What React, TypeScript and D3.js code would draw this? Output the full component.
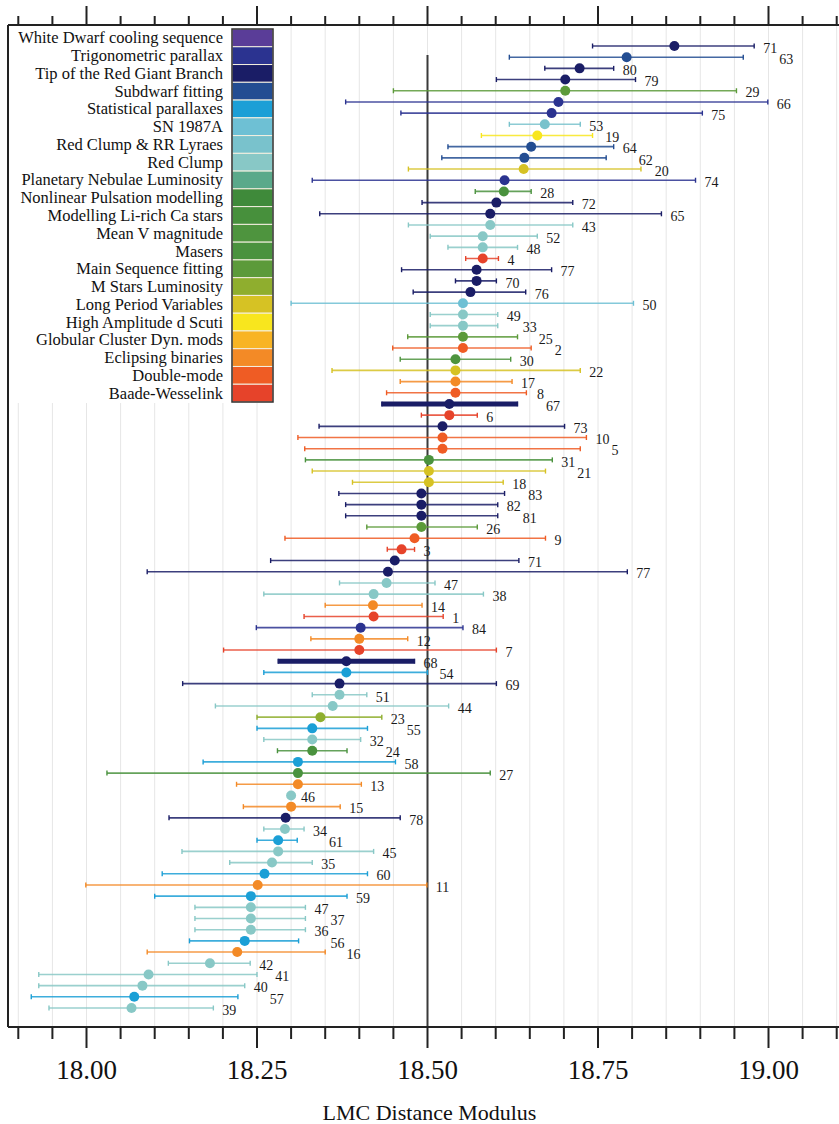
import React from "react";
import * as d3 from "d3";

const methodNames = [
  "White Dwarf cooling sequence",
  "Trigonometric parallax",
  "Tip of the Red Giant Branch",
  "Subdwarf fitting",
  "Statistical parallaxes",
  "SN 1987A",
  "Red Clump  &  RR Lyraes",
  "Red Clump",
  "Planetary Nebulae Luminosity",
  "Nonlinear Pulsation modelling",
  "Modelling Li-rich Ca stars",
  "Mean V magnitude",
  "Masers",
  "Main Sequence fitting",
  "M Stars Luminosity",
  "Long Period Variables",
  "High Amplitude d Scuti",
  "Globular Cluster Dyn. mods",
  "Eclipsing binaries",
  "Double-mode",
  "Baade-Wesselink",
];

const methodColors = [
  "#5a3d98", "#2b3390", "#1a1d66", "#234d92", "#1b9fd6", "#6ec0d4", "#79c2cc",
  "#88c8c6", "#5aa98a", "#3f8a3a", "#47903c", "#4e943e", "#4a923e", "#5c9a3a",
  "#8fae2e", "#d6c224", "#f8e61e", "#f8b424", "#f38a26", "#ef5c24", "#e6432a",
];

const refLabels = [
  "71", "63", "80", "79", "29", "66", "75", "53", "19", "64", "62", "20", "74", "28", "72", "65", "43", "52", "48", "4",
  "77", "70", "76", "50", "49", "33", "25", "2", "30", "22", "17", "8", "67", "6", "73", "10", "5", "31", "21", "18",
  "83", "82", "81", "26", "9", "3", "71", "77", "47", "38", "14", "1", "84", "12", "7", "68", "54", "69", "51", "44",
  "23", "55", "32", "24", "58", "27", "13", "46", "15", "78", "34", "61", "45", "35", "60", "11", "59", "47", "37", "36",
  "56", "16", "42", "41", "40", "57", "39",
];

const modulus = [
  18.862, 18.792, 18.723, 18.702, 18.702, 18.692, 18.682, 18.672, 18.661, 18.652, 18.642, 18.641, 18.613, 18.612, 18.601, 18.592, 18.592, 18.581, 18.581, 18.581,
  18.572, 18.572, 18.563, 18.552, 18.552, 18.552, 18.552, 18.552, 18.541, 18.541, 18.541, 18.541, 18.532, 18.532, 18.522, 18.522, 18.522, 18.502, 18.502, 18.502,
  18.491, 18.491, 18.491, 18.491, 18.481, 18.462, 18.452, 18.442, 18.440, 18.421, 18.420, 18.421, 18.402, 18.400, 18.400, 18.381, 18.381, 18.371, 18.371, 18.361,
  18.343, 18.331, 18.331, 18.331, 18.310, 18.310, 18.310, 18.300, 18.300, 18.292, 18.291, 18.281, 18.281, 18.272, 18.261, 18.251, 18.241, 18.241, 18.241, 18.241,
  18.232, 18.221, 18.181, 18.091, 18.082, 18.070, 18.066,
];

const lowerBound = [
  18.742, 18.620, 18.672, 18.601, 18.450, 18.380, 18.461, 18.620, 18.579, 18.530, 18.521, 18.472, 18.331, 18.570, 18.492, 18.342, 18.472, 18.504, 18.530, 18.556,
  18.462, 18.541, 18.479, 18.300, 18.504, 18.504, 18.471, 18.449, 18.460, 18.360, 18.460, 18.440, 18.433, 18.491, 18.341, 18.310, 18.320, 18.321, 18.331, 18.390,
  18.370, 18.380, 18.380, 18.411, 18.291, 18.441, 18.270, 18.089, 18.371, 18.260, 18.350, 18.319, 18.249, 18.329, 18.201, 18.281, 18.260, 18.141, 18.331, 18.189,
  18.250, 18.250, 18.260, 18.280, 18.171, 18.030, 18.220, 18.300, 18.230, 18.121, 18.260, 18.250, 18.140, 18.210, 18.111, 17.999, 18.100, 18.159, 18.159, 18.159,
  18.151, 18.089, 18.120, 17.930, 17.930, 17.919, 17.945,
];

const upperBound = [
  18.979, 18.963, 18.773, 18.805, 18.953, 18.999, 18.903, 18.724, 18.742, 18.773, 18.762, 18.813, 18.893, 18.652, 18.713, 18.843, 18.713, 18.661, 18.632, 18.604,
  18.682, 18.601, 18.644, 18.802, 18.603, 18.603, 18.632, 18.652, 18.622, 18.724, 18.624, 18.645, 18.632, 18.573, 18.701, 18.733, 18.724, 18.683, 18.673, 18.611,
  18.613, 18.603, 18.603, 18.573, 18.673, 18.481, 18.634, 18.793, 18.511, 18.582, 18.492, 18.523, 18.552, 18.471, 18.601, 18.481, 18.500, 18.601, 18.411, 18.531,
  18.433, 18.412, 18.402, 18.382, 18.453, 18.592, 18.403, 18.300, 18.372, 18.460, 18.319, 18.309, 18.421, 18.331, 18.412, 18.499, 18.382, 18.321, 18.321, 18.321,
  18.311, 18.350, 18.240, 18.250, 18.232, 18.222, 18.186,
];

const methodIndex = [
  2, 3, 2, 2, 13, 1, 1, 6, 16, 3, 3, 15, 1, 12, 2, 2, 7, 7, 7, 20,
  2, 2, 2, 5, 7, 7, 13, 19, 11, 15, 18, 19, 2, 20, 2, 19, 19, 12, 15, 15,
  2, 2, 2, 13, 19, 20, 2, 2, 7, 7, 18, 20, 1, 18, 20, 2, 4, 2, 7, 7,
  14, 4, 7, 12, 4, 12, 18, 7, 18, 2, 7, 4, 7, 7, 4, 18, 4, 7, 7, 7,
  4, 18, 7, 7, 7, 4, 7,
];

const thickRowIndex = [32, 55];

const majorTicks = [18.0, 18.25, 18.5, 18.75, 19.0];
const tickLabels = ["18.00", "18.25", "18.50", "18.75", "19.00"];
const xTitle = "LMC Distance Modulus";

const W = 839;
const H = 1124;
const LEFT = 8;
const TOP_AXIS = 25;
const BOTTOM_AXIS = 1027;
const SERIF = "'Liberation Serif', 'Times New Roman', serif";
const LABEL_FS = 14;

export default function App() {
  const x = d3.scaleLinear().domain([18, 19]).range([86.5, 768.5]);
  const y = d3
    .scalePoint<number>()
    .domain(d3.range(modulus.length))
    .range([46, 1008]);

  const minorTicks = d3.range(0, 25).map((i) => +(17.9 + i * 0.05).toFixed(2));
  const isMajor = (v: number) => majorTicks.some((m) => Math.abs(m - v) < 1e-6);

  // label placement: right of the bar end, nudged right when it would collide with the label above
  const labelX: number[] = [];
  const labelW = (s: string) => s.length * LABEL_FS * 0.5;
  modulus.forEach((v, i) => {
    const x0 = x(lowerBound[i]);
    const x1 = x(upperBound[i]);
    let lx = x1 + (x1 > x0 ? 9 : 10);
    if (i > 0) {
      const px = labelX[i - 1];
      const pw = labelW(refLabels[i - 1]);
      const w = labelW(refLabels[i]);
      if (lx < px + pw + 1 && lx + w > px - 1) {
        lx = px + pw + 2;
      }
    }
    labelX.push(lx);
  });

  const legendTop = 29;
  const legendBottom = 402;
  const legendStep = (legendBottom - legendTop) / methodNames.length;
  const legX0 = 232;
  const legX1 = 273;

  return (
    <svg
      width={W}
      height={H}
      style={{ position: "absolute", left: 0, top: 0, background: "#fff" }}
      fontFamily={SERIF}
    >
      <rect x={0} y={0} width={W} height={H} fill="#fff" />
      {minorTicks.map((v) => (
        <line
          key={"g" + v}
          x1={x(v)}
          x2={x(v)}
          y1={TOP_AXIS}
          y2={BOTTOM_AXIS}
          stroke="#e6e6e6"
          strokeWidth={1}
        />
      ))}
      <rect x={LEFT} y={TOP_AXIS + 1} width={legX1 - LEFT} height={legendBottom - TOP_AXIS} fill="#fff" />

      <line x1={x(18.5)} x2={x(18.5)} y1={55} y2={BOTTOM_AXIS} stroke="#3a3a3a" strokeWidth={2} />

      {modulus.map((v, i) => {
        const c = methodColors[methodIndex[i]];
        const thick = thickRowIndex.includes(i);
        const yy = y(i) as number;
        const x0 = x(lowerBound[i]);
        const x1 = x(upperBound[i]);
        return (
          <g key={"b" + i}>
            {x1 > x0 && (
              <>
                <line x1={x0} x2={x1} y1={yy} y2={yy} stroke={c} strokeWidth={thick ? 5 : 1.6} strokeOpacity={thick ? 1 : 0.85} />
                <line x1={x0} x2={x0} y1={yy - 2.5} y2={yy + 2.5} stroke={c} strokeWidth={1.4} />
                <line x1={x1} x2={x1} y1={yy - 2.5} y2={yy + 2.5} stroke={c} strokeWidth={1.4} />
              </>
            )}
            <circle cx={x(v)} cy={yy} r={5} fill={c} />
            <text
              x={labelX[i]}
              y={yy + 3.5}
              fontSize={LABEL_FS}
              fill="#1a1a1a"
              dominantBaseline="middle"
            >
              {refLabels[i]}
            </text>
          </g>
        );
      })}

      {methodNames.map((name, k) => {
        const yy = legendTop + k * legendStep;
        return (
          <g key={"l" + k}>
            <rect x={legX0} y={yy} width={legX1 - legX0} height={legendStep} fill={methodColors[k]} stroke="#f4efe0" strokeWidth={1} />
            <text
              x={223}
              y={yy + legendStep / 2}
              textAnchor="end"
              dominantBaseline="central"
              fontSize={16.5}
              fill="#111"
            >
              {name}
            </text>
          </g>
        );
      })}
      <rect x={legX0} y={legendTop} width={legX1 - legX0} height={legendBottom - legendTop} fill="none" stroke="#333" strokeWidth={1.5} />

      <line x1={LEFT} x2={LEFT} y1={TOP_AXIS} y2={BOTTOM_AXIS} stroke="#222" strokeWidth={2} />
      <line x1={LEFT} x2={W} y1={TOP_AXIS} y2={TOP_AXIS} stroke="#222" strokeWidth={2} />
      {minorTicks.map((v) => (
        <line
          key={"tt" + v}
          x1={x(v)}
          x2={x(v)}
          y1={TOP_AXIS}
          y2={TOP_AXIS - (isMajor(v) ? 19 : 9)}
          stroke="#222"
          strokeWidth={2}
        />
      ))}
      <line x1={LEFT} x2={W} y1={BOTTOM_AXIS} y2={BOTTOM_AXIS} stroke="#222" strokeWidth={2} />
      {minorTicks.map((v) => (
        <line
          key={"bt" + v}
          x1={x(v)}
          x2={x(v)}
          y1={BOTTOM_AXIS}
          y2={BOTTOM_AXIS + (isMajor(v) ? 21 : 12)}
          stroke="#222"
          strokeWidth={2}
        />
      ))}
      {majorTicks.map((v, k) => (
        <text
          key={"tl" + k}
          x={x(v)}
          y={1070}
          textAnchor="middle"
          dominantBaseline="central"
          fontSize={27}
          fill="#111"
        >
          {tickLabels[k]}
        </text>
      ))}
      <text x={x(18.5) + 2} y={1112} textAnchor="middle" dominantBaseline="central" fontSize={22} fill="#111">
        {xTitle}
      </text>
    </svg>
  );
}
